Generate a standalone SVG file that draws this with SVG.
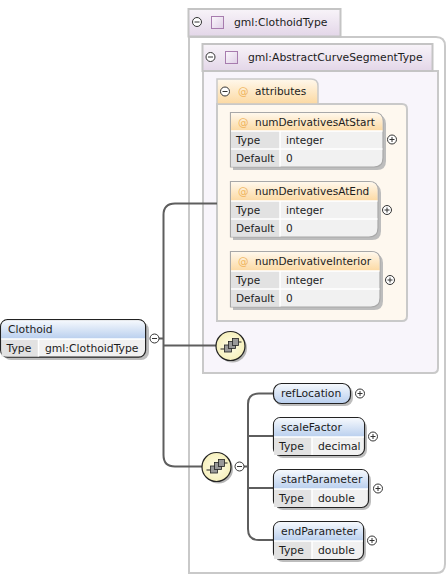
<svg xmlns="http://www.w3.org/2000/svg" width="447" height="575" viewBox="0 0 447 575">
<style>
text{font-family:"DejaVu Sans",sans-serif;font-size:10.800px;fill:#1c1c1c}
#attributes text,#numDerivativesAtStart text,#numDerivativesAtEnd text,#numDerivativeInterior text{font-size:10.500px}
.tab{font-size:10.800px}
.cx{fill:#fff;stroke:#333;stroke-width:1}
.sym{stroke:#333;stroke-width:1;fill:none}
.conn{fill:none;stroke:#5e5e5e;stroke-width:2}
.tp{fill:url(#pur);stroke:#c4c4c4;stroke-width:2}
.tb{fill:none;stroke:#c9c9c9;stroke-width:2}
.sh{fill:#bdbdbd}
.el{fill:#f1f1f1;stroke:#222;stroke-width:1.2}
.at{fill:#f1f1f1;stroke:#a8a8a8;stroke-width:1.2}
.lab{fill:#e2e2e2}
.sep{stroke:#fff;stroke-width:1.5}
.ico{fill:url(#icg);stroke:#a77cae;stroke-width:1}
</style>
<defs>
<linearGradient id="pur" x1="0" y1="0" x2="0" y2="1"><stop offset="0" stop-color="#f8f4f9"/><stop offset="1" stop-color="#e3d6e8"/></linearGradient>
<linearGradient id="icg" x1="0" y1="0" x2="1" y2="1"><stop offset="0" stop-color="#fbf8fc"/><stop offset="1" stop-color="#dfcfe6"/></linearGradient>
<linearGradient id="org" x1="0" y1="0" x2="0" y2="1"><stop offset="0" stop-color="#fff8ec"/><stop offset="1" stop-color="#fcd9a2"/></linearGradient>
<linearGradient id="blu" x1="0" y1="0" x2="0" y2="1"><stop offset="0" stop-color="#f6f9fd"/><stop offset="1" stop-color="#b9cfee"/></linearGradient>
<radialGradient id="yel"><stop offset="0" stop-color="#fffde8"/><stop offset="1" stop-color="#f6f0bc"/></radialGradient>
<g id="plus"><circle class="cx" r="4.500"/><path class="sym" d="M-2.500 0H2.500M0-2.500V2.500"/></g>
<g id="minus"><circle class="cx" r="4.500"/><path class="sym" d="M-2.500 0H2.500"/></g>
<g id="seq"><circle cx="2" cy="2" r="14.500" fill="#b5b5b5"/><circle r="14.500" fill="url(#yel)" stroke="#222" stroke-width="1.200"/>
<path d="M-10 3H-6M8-4H11" stroke="#222" stroke-width="1.200" fill="none"/>
<rect x="-6" y="-1" width="7" height="7" fill="#999" stroke="#222" stroke-width=".8"/><rect x="-2" y="-4.500" width="7" height="7" fill="#999" stroke="#222" stroke-width=".8"/><rect x="2" y="-7.500" width="6" height="7" fill="#999" stroke="#222" stroke-width=".8"/></g>
</defs>
<rect width="447" height="575" fill="#fff"/>

<g id="clothoidType">
<path class="tb" d="M189 37H436Q445 37 445 46V564Q445 573 436 573H189Z" fill="#fff"/>
<rect class="tp" x="188.500" y="9" width="152" height="27.500"/>
<use href="#minus" x="197" y="22"/><rect class="ico" x="211.500" y="16.500" width="12" height="12"/>
<text class="tab" x="234" y="26">gml:ClothoidType</text>
</g>
<g id="abstractCurveSegmentType">
<path d="M203 71H438V368Q438 373 433 373H203Z" fill="#f8f5fb" stroke="#c9c9c9" stroke-width="2"/>
<rect class="tp" x="202.500" y="44" width="230" height="27"/>
<use href="#minus" x="210.500" y="57"/><rect class="ico" x="225.500" y="51.500" width="12" height="12"/>
<text class="tab" x="248" y="61">gml:AbstractCurveSegmentType</text>
</g>
<g id="attributes">
<path d="M217 104H402Q407 104 407 109V316Q407 321 402 321H217Z" fill="#fef8ef" stroke="#c9c9c9" stroke-width="2"/>
<path d="M217 104V79H311Q318 79 318 86V104Z" fill="url(#org)" stroke="#c9c9c9" stroke-width="1.500"/>
<use href="#minus" x="225" y="91.500"/>
<text x="238" y="95" style="fill:#f0b45c">@</text><text x="255" y="95">attributes</text>
</g>
<g id="numDerivativesAtStart">
<path class="sh" d="M233 115H377Q386 115 386 124V161Q386 170 377 170H233Z"/>
<path class="at" d="M230.500 112.500H374Q383 112.500 383 121V158Q383 167 374 167H230.500Z"/>
<path d="M231 113H374Q382.500 113 382.500 121V131H231Z" fill="url(#org)"/>
<rect class="lab" x="231" y="131" width="49" height="35.500"/>
<path class="sep" d="M231 131H382.500M231 149H382.500M280 131V166.500"/>
<text x="238" y="126" style="fill:#f0b45c">@</text><text x="255" y="126">numDerivativesAtStart</text>
<text x="236" y="144">Type</text><text x="286" y="144">integer</text>
<text x="236" y="162">Default</text><text x="286" y="162">0</text>
<use href="#plus" x="392" y="139.500"/>
</g>
<g id="numDerivativesAtEnd">
<path class="sh" d="M233 184H372Q381 184 381 193V231Q381 240 372 240H233Z"/>
<path class="at" d="M230.500 181.500H369Q378 181.500 378 190V228Q378 237 369 237H230.500Z"/>
<path d="M231 182H369Q377.500 182 377.500 190V201H231Z" fill="url(#org)"/>
<rect class="lab" x="231" y="201" width="49" height="35.500"/>
<path class="sep" d="M231 201H377.500M231 219H377.500M280 201V236.500"/>
<text x="238" y="195" style="fill:#f0b45c">@</text><text x="255" y="195">numDerivativesAtEnd</text>
<text x="236" y="214">Type</text><text x="286" y="214">integer</text>
<text x="236" y="232">Default</text><text x="286" y="232">0</text>
<use href="#plus" x="387" y="210"/>
</g>
<g id="numDerivativeInterior">
<path class="sh" d="M233 254H374Q383 254 383 263V301Q383 310 374 310H233Z"/>
<path class="at" d="M230.500 251.500H371Q380 251.500 380 260V298Q380 307 371 307H230.500Z"/>
<path d="M231 252H371Q379.500 252 379.500 260V271H231Z" fill="url(#org)"/>
<rect class="lab" x="231" y="271" width="49" height="35.500"/>
<path class="sep" d="M231 271H379.500M231 289H379.500M280 271V306.500"/>
<text x="238" y="265" style="fill:#f0b45c">@</text><text x="255" y="265">numDerivativeInterior</text>
<text x="236" y="284">Type</text><text x="286" y="284">integer</text>
<text x="236" y="302">Default</text><text x="286" y="302">0</text>
<use href="#plus" x="390" y="280"/>
</g>

<g id="connectors">
<path class="conn" d="M217 203.500H175Q163.500 203.500 163.500 215V455Q163.500 466.500 175 466.500H203"/>
<path class="conn" d="M159 338.500H163.500M163.500 345.500H218"/>
<path class="conn" d="M244 466.500H248M273 393.500H259Q248 393.500 248 404V529Q248 540 259 540H273M248 436H273M248 488H273"/>
</g>

<g id="clothoid">
<rect class="sh" x="3" y="322" width="146" height="38" rx="8"/>
<rect class="el" x="0.600" y="319.600" width="145" height="37.500" rx="7"/>
<path d="M1.200 339V327Q1.200 320.200 8 320.200H138Q145 320.200 145 327V339Z" fill="url(#blu)"/>
<rect class="lab" x="1.500" y="339" width="37" height="17.500"/>
<path class="sep" d="M1.200 339H145M38.500 339V356.500"/>
<text x="8" y="333">Clothoid</text>
<text x="6.500" y="352">Type</text><text x="45" y="352">gml:ClothoidType</text>
<use href="#minus" x="154.500" y="338.500"/>
</g>
<g id="sequence1"><use href="#seq" x="230.500" y="346"/></g>
<g id="sequence2"><use href="#seq" x="216.500" y="467"/><use href="#minus" x="239.500" y="466.500"/></g>

<g id="refLocation">
<rect class="sh" x="275" y="386" width="78" height="20" rx="8"/>
<rect x="273.500" y="383.500" width="77" height="20" rx="8" fill="url(#blu)" stroke="#222" stroke-width="1.200"/>
<text x="281" y="397">refLocation</text><use href="#plus" x="360" y="393.500"/>
</g>
<g id="scaleFactor">
<rect class="sh" x="275" y="420" width="92" height="38" rx="8"/>
<rect class="el" x="273.500" y="417.500" width="91" height="38" rx="7"/>
<path d="M274 437V425Q274 418 281 418H357Q364 418 364 425V437Z" fill="url(#blu)"/>
<rect class="lab" x="274" y="437" width="38" height="18"/>
<path class="sep" d="M274 437H364M312 437V455"/>
<text x="281" y="431">scaleFactor</text><text x="279" y="450">Type</text><text x="318" y="450">decimal</text>
<use href="#plus" x="373" y="436.500"/>
</g>
<g id="startParameter">
<rect class="sh" x="275" y="472" width="96" height="38" rx="8"/>
<rect class="el" x="273.500" y="469.500" width="95" height="38" rx="7"/>
<path d="M274 489V477Q274 470 281 470H361Q368 470 368 477V489Z" fill="url(#blu)"/>
<rect class="lab" x="274" y="489" width="38" height="18"/>
<path class="sep" d="M274 489H368M312 489V507"/>
<text x="281" y="483">startParameter</text><text x="279" y="502">Type</text><text x="318" y="502">double</text>
<use href="#plus" x="378" y="488.500"/>
</g>
<g id="endParameter">
<rect class="sh" x="275" y="524" width="91" height="38" rx="8"/>
<rect class="el" x="273.500" y="521.500" width="90" height="38" rx="7"/>
<path d="M274 541V529Q274 522 281 522H356Q363 522 363 529V541Z" fill="url(#blu)"/>
<rect class="lab" x="274" y="541" width="38" height="18"/>
<path class="sep" d="M274 541H363M312 541V559"/>
<text x="281" y="535">endParameter</text><text x="279" y="554">Type</text><text x="318" y="554">double</text>
<use href="#plus" x="372" y="540.500"/>
</g>
</svg>
